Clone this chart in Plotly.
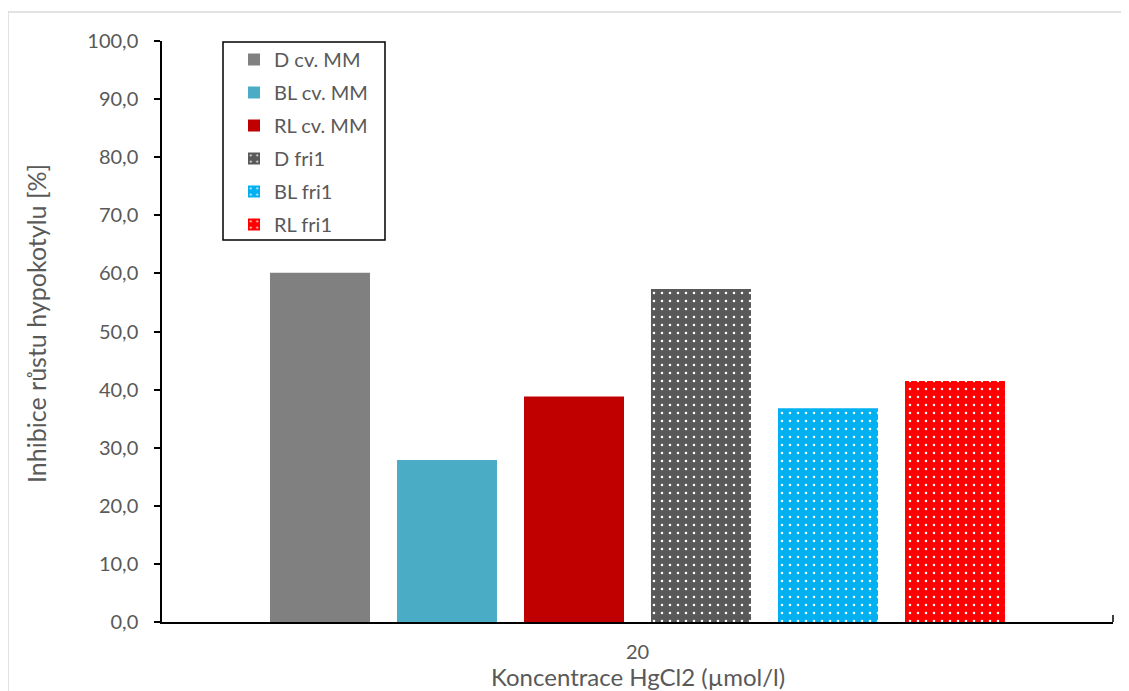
import plotly.graph_objects as go

categories = ["20"]
series_names = ["D cv. MM", "BL cv. MM", "RL cv. MM", "D fri1", "BL fri1", "RL fri1"]
series_values = [[60.1], [27.9], [38.8], [57.3], [36.8], [41.5]]
series_colors = ["#808080", "#4BACC6", "#C00000", "#595959", "#00B0F0", "#FF0000"]
series_dotted = [False, False, False, True, True, True]

FONT = "Lato, 'Open Sans', sans-serif"
TXT = "#595959"

fig = go.Figure()
for i, (name, vals, col, dotted) in enumerate(zip(series_names, series_values, series_colors, series_dotted)):
    marker = dict(color=col, line=dict(width=0))
    if dotted:
        marker["pattern"] = dict(shape=".", fgcolor="white", bgcolor=col,
                                 size=8, solidity=0.08, fillmode="replace")
    fig.add_trace(go.Bar(name=name, x=categories, y=vals, marker=marker,
                         legendgroup=f"g{i}"))

# page body has an 8px margin; compensate so screen pixels match
OFF = 8
W, H = 1129 - OFF, 691 - OFF
L, R, T, B = 162 - OFF, 16, 41 - OFF, 69
pw, ph = W - L - R, H - T - B

def px(x):  # screen x -> paper
    return (x - OFF - L) / pw

def py(y):  # screen y -> paper
    return (OFF + H - B - y) / ph

fig.update_layout(
    width=W, height=H,
    margin=dict(l=L, r=R, t=T, b=B, autoexpand=False),
    paper_bgcolor="white", plot_bgcolor="white",
    barmode="group", bargap=0.1987, bargroupgap=0.2126,
    separators=", ",
    font=dict(family=FONT, size=20, color=TXT),
    showlegend=True,
    legend=dict(
        x=px(234), y=py(40), xanchor="left", yanchor="top",
        borderwidth=0, bgcolor="rgba(255,255,255,0)",
        font=dict(family=FONT, size=20, color=TXT),
        traceorder="grouped", tracegroupgap=4,
    ),
    xaxis=dict(
        type="category", showline=True, linecolor="#000000", linewidth=1.5,
        ticks="", tickfont=dict(size=20, color=TXT), ticklabelstandoff=11,
        showgrid=False, zeroline=False,
    ),
    yaxis=dict(
        range=[0, 100], dtick=10, tickformat=".1f",
        showline=True, linecolor="#000000", linewidth=1.5,
        ticks="outside", ticklen=6, tickcolor="#000000", tickwidth=1.5,
        tickfont=dict(size=20, color=TXT), ticklabelstandoff=12,
        showgrid=False, zeroline=False,
    ),
    annotations=[
        dict(text="Inhibice růstu hypokotylu [%]", textangle=-90,
             xref="paper", yref="paper", x=px(36), y=py(324),
             xanchor="center", yanchor="middle", showarrow=False,
             font=dict(family=FONT, size=25, color=TXT)),
        dict(text="Koncentrace HgCl2 (µmol/l)",
             xref="paper", yref="paper", x=0.5, y=py(692),
             xanchor="center", yanchor="bottom", showarrow=False,
             borderpad=0,
             font=dict(family=FONT, size=24, color=TXT)),
    ],
    shapes=[
        # chart-area border (Excel style)
        dict(type="rect", xref="paper", yref="paper",
             x0=px(8), x1=px(1127), y0=py(705), y1=py(12),
             line=dict(color="#D9D9D9", width=1.5), layer="below"),
        # legend box
        dict(type="rect", xref="paper", yref="paper",
             x0=px(223), x1=px(385), y0=py(240), y1=py(42),
             line=dict(color="#000000", width=1.5), fillcolor="white", layer="below"),
        # category boundary tick at right end of x axis
        dict(type="line", xref="paper", yref="paper",
             x0=1, x1=1, y0=0, y1=py(615),
             line=dict(color="#000000", width=1.5)),
    ],
)

fig.write_html("out.html")
